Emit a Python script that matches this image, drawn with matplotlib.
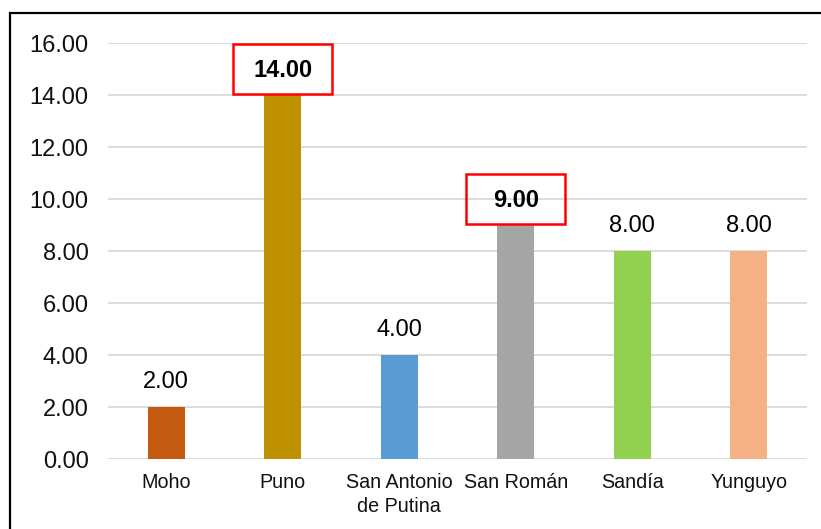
import matplotlib.pyplot as plt
from matplotlib.patches import Rectangle

# data
categories = ["Moho", "Puno", "San Antonio\nde Putina", "San Román", "Sandía", "Yunguyo"]
values = [2.00, 14.00, 4.00, 9.00, 8.00, 8.00]
highlight = [False, True, False, True, False, False]
bar_colors = ["#C55A11", "#BF9000", "#5B9BD5", "#A5A5A5", "#92D050", "#F4B183"]

plt.rcParams['font.family'] = ['Liberation Sans', 'DejaVu Sans']

fig = plt.figure(figsize=(8.21, 5.29), dpi=100)
ax = fig.add_axes([108 / 821, 1 - 459 / 529, 699 / 821, 416 / 529])

x = range(len(categories))
ax.bar(x, values, width=0.32, color=bar_colors, zorder=3)

ax.set_ylim(0, 16)
ax.set_xlim(-0.5, len(categories) - 0.5)
ax.set_yticks(range(0, 17, 2))
ax.set_yticklabels([f"{v:.2f}" for v in range(0, 17, 2)], fontsize=17)
ax.set_xticks(list(x))
ax.set_xticklabels(categories, fontsize=14.2, linespacing=1.35)
ax.tick_params(axis='y', length=0, pad=14, labelcolor="#111111")
ax.tick_params(axis='x', length=0, pad=10, labelcolor="#111111")
ax.yaxis.grid(True, color="#d9d9d9", linewidth=1.3, zorder=0)
for s in ax.spines.values():
    s.set_visible(False)

# value labels, two of them boxed in red
for i, (v, hl) in enumerate(zip(values, highlight)):
    ax.text(i, v + 0.95, f"{v:.2f}", ha='center', va='center', fontsize=17,
            fontweight='bold' if hl else 'normal', zorder=5)
    if hl:
        ax.add_patch(Rectangle((i - 0.425, v + 0.04), 0.85, 1.92, fill=False,
                               edgecolor="#ff0000", linewidth=1.8, zorder=4,
                               clip_on=False))

# outer frame
fig.patches.append(Rectangle((10 / 821, -0.01), 1.0, 1 - 13 / 529 + 0.01,
                             transform=fig.transFigure, fill=False,
                             edgecolor="black", linewidth=1.6))

fig.savefig("out.png", dpi=100)
